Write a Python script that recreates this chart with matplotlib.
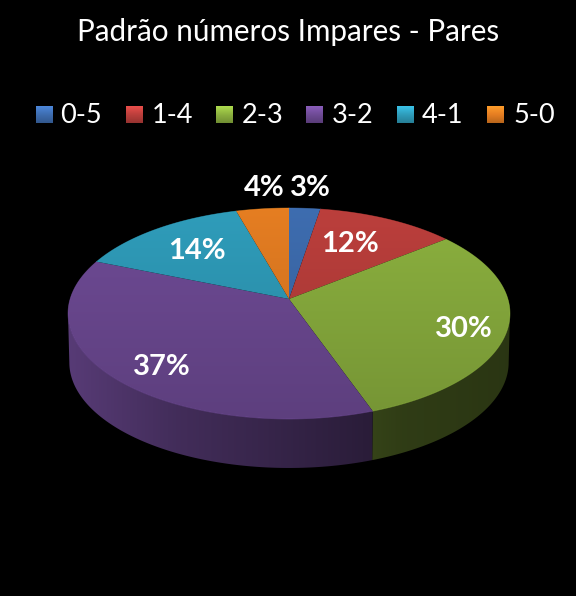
import numpy as np
import matplotlib
matplotlib.use("Agg")
import matplotlib.pyplot as plt
from matplotlib.colors import LinearSegmentedColormap
from matplotlib.patches import Polygon

plt.rcParams['font.family'] = ['Lato', 'DejaVu Sans']

title = "Padrão números Impares - Pares"
categories = ['0-5', '1-4', '2-3', '3-2', '4-1', '5-0']
values = [2.6, 11.6, 30.4, 36.6, 14.4, 4.4]
colors = ['#3E6DB0', '#BC3F3C', '#8CB13F', '#6F4B96', '#2F9DBB', '#E67E22']

# layout in pixels
APEX = (289, 299)
RX, RY, PERSP = 218.9, 103.5, 0.1374
DEPTH = 49
label_pos = [(310, 188), (350, 244), (464, 329), (162, 367), (197, 251), (264, 188)]
legend_patch_x = [35.5, 125.5, 215.5, 305.5, 396.5, 487]
legend_text_x = [60.5, 152, 241.5, 332, 421.5, 513]


def project(theta, shrink=0.0, drop=0.0):
    # theta clockwise from 12 o'clock, circle seen with some perspective
    u, v = np.sin(theta), np.cos(theta)
    w = 1 + PERSP * v
    x = APEX[0] + RX * (1 - shrink) * u / w
    y = APEX[1] - RY * v / w + drop
    return x, y


def shade(col, f):
    rgb = np.array(matplotlib.colors.to_rgb(col)) * f
    return tuple(np.clip(rgb, 0, 1))


def gradient(ax, path_xy, stops, extent, horizontal=False):
    cmap = LinearSegmentedColormap.from_list('g', stops)
    g = np.linspace(0, 1, 256)
    g = g.reshape(1, -1) if horizontal else g.reshape(-1, 1)
    im = ax.imshow(g, cmap=cmap, extent=extent, aspect='auto', vmin=0, vmax=1,
                   zorder=ax.zo, interpolation='bilinear')
    clip = Polygon(path_xy, closed=True, transform=ax.transData)
    im.set_clip_path(clip)
    ax.zo += 0.01


fig = plt.figure(figsize=(5.76, 5.96), dpi=100, facecolor='black')
ax = fig.add_axes([0, 0, 1, 1])
ax.zo = 2
ax.set_facecolor('black')

edges = np.concatenate([[0], np.cumsum(values)]) / np.sum(values) * 2 * np.pi

# outer wall first, top faces go over it
# only the front part, the fold at the tangent points would punch a hole in the clip
front_start = np.arccos(-PERSP)
front_end = 2 * np.pi - front_start
for i, col in enumerate(colors):
    t0, t1 = max(edges[i], front_start), min(edges[i + 1], front_end)
    if t0 >= t1:
        continue
    t = np.linspace(t0, t1, 120)
    x1, y1 = project(t)
    x2, y2 = project(t, shrink=0.006, drop=DEPTH)
    poly = np.column_stack([np.r_[x1, x2[::-1]], np.r_[y1, y2[::-1]]])
    stops = [shade(col, f) for f in (0.8, 0.6, 0.47, 0.34, 0.3)]
    gradient(ax, poly, stops, (60, 520, 480, 250), horizontal=True)

# top faces
for i, col in enumerate(colors):
    t = np.linspace(edges[i], edges[i + 1], 120)
    x, y = project(t)
    poly = np.column_stack([np.r_[APEX[0], x], np.r_[APEX[1], y]])
    stops = [shade(col, 1.0), shade(col, 0.84)]
    gradient(ax, poly, stops, (60, 520, 420, 205))
    # thin lighter rim on the front edge
    ax.plot(x, y, color=shade(col, 1.2), lw=0.5, alpha=0.5, zorder=4)

for i, cat in enumerate(categories):
    px = legend_patch_x[i]
    sq = [(px, 106), (px + 17, 106), (px + 17, 123), (px, 123)]
    stops = [shade(colors[i], 1.25), shade(colors[i], 1.0), shade(colors[i], 0.8)]
    gradient(ax, sq, stops, (px, px + 17, 123, 106))
    ax.text(legend_text_x[i], 115.5, cat, color='white', fontsize=19.5,
            va='center', ha='left', zorder=5)
    lx, ly = label_pos[i]
    ax.text(lx, ly, f"{round(values[i])}%", color='white', fontsize=21,
            fontweight='bold', va='center', ha='center', zorder=5)

ax.text(288, 32, title, color='white', fontsize=21.3, va='center', ha='center', zorder=5)

ax.set_xlim(0, 576)
ax.set_ylim(596, 0)
ax.axis('off')
fig.savefig('out.png', dpi=100, facecolor='black')
